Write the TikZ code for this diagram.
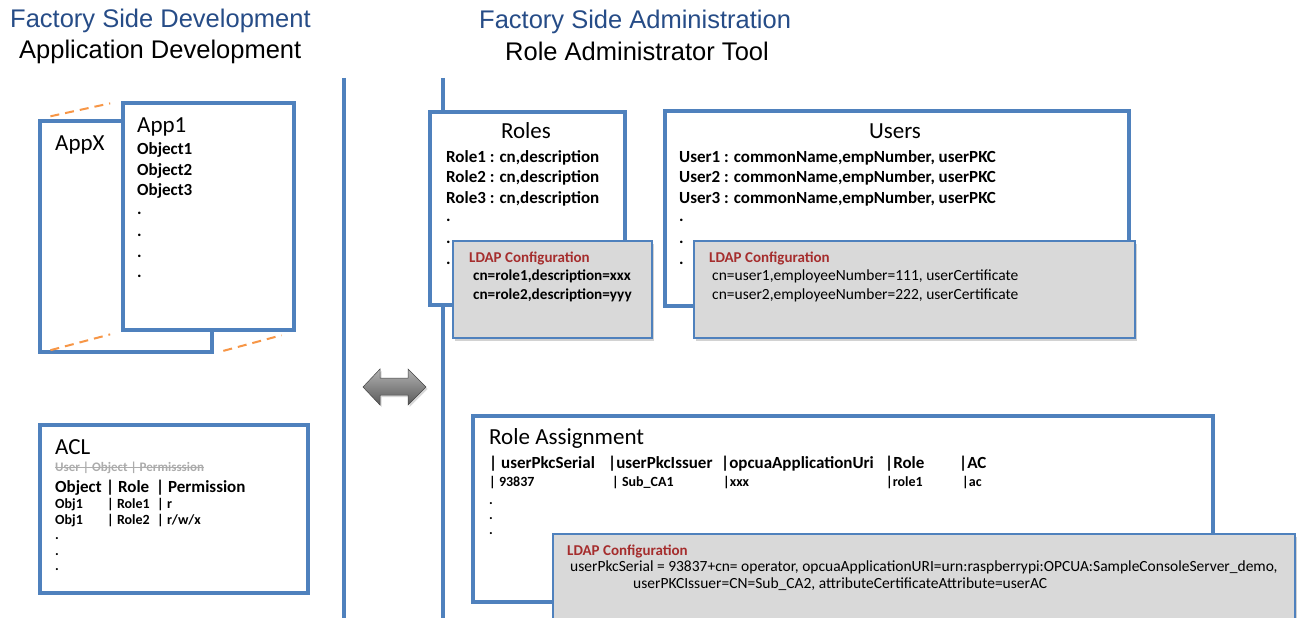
\documentclass[tikz,border=0pt]{standalone}
\usepackage{fontspec}
\setmainfont{Carlito}
\newfontfamily\titlefont{Liberation Sans}
\usetikzlibrary{calc,shadows}
\definecolor{boxblue}{RGB}{79,129,189}
\definecolor{titleblue}{RGB}{38,76,135}
\definecolor{ldapred}{RGB}{165,45,45}
\definecolor{ldapgray}{RGB}{217,217,217}
\definecolor{dashorange}{RGB}{247,150,70}

\begin{document}
\begin{tikzpicture}[x=1pt, y=-1pt,
    box/.style={draw=boxblue, line width=3.5pt, fill=white, inner sep=0pt, anchor=north west},
    ldapbox/.style={draw=boxblue, line width=2pt, fill=ldapgray, inner sep=0pt, anchor=north west,
        drop shadow={opacity=0.35, shadow xshift=2pt, shadow yshift=-3pt}},
    sep/.style={draw=boxblue, line width=3.5pt},
    persp/.style={draw=dashorange, line width=2pt, dash pattern=on 9pt off 6pt},
    title/.style={anchor=base west, inner sep=0pt, font=\titlefont\fontsize{25.5}{30}\selectfont},
    head/.style={anchor=base west, inner sep=0pt, font=\fontsize{23}{27}\selectfont},
    item/.style={anchor=base west, inner sep=0pt, font=\bfseries\fontsize{17}{20}\selectfont},
    small/.style={anchor=base west, inner sep=0pt, font=\bfseries\fontsize{14}{16}\selectfont},
    ldaphead/.style={anchor=base west, inner sep=0pt, text=ldapred, font=\bfseries\fontsize{15}{18}\selectfont},
    ldap/.style={anchor=base west, inner sep=0pt, font=\fontsize{15.5}{18}\selectfont}]
    \useasboundingbox (0,0) rectangle (1299,618);
    \clip (0,0) rectangle (1299,618);
    \fill[white] (0,0) rectangle (1299,618);

    % 标题
    \node[title, text=titleblue] (devtitle) at (10,28) {Factory Side Development};
    \node[title] (devsub) at (19,59) {Application Development};
    \node[title, text=titleblue] (admtitle) at (479,29) {Factory Side Administration};
    \node[title] (admsub) at (505,60) {Role Administrator Tool};

    % 分隔线
    \draw[sep] (344,78) -- (344,618);
    \draw[sep] (443,78) -- (443,618);

    % 应用
    \node[box, minimum width=172pt, minimum height=231pt] (appx) at (38,119) {};
    \node[head] (appxname) at (55,150) {AppX};
    \node[box, minimum width=171pt, minimum height=227pt] (appone) at (121,101) {};
    \node[head] (apponename) at (137,132) {App1};
    \node[item] (objone) at (137,154) {Object1};
    \node[item] (objtwo) at (137,175) {Object2};
    \node[item] (objthree) at (137,195) {Object3};
    \node[item] (objdota) at (137,214) {.};
    \node[item] (objdotb) at (137,236) {.};
    \node[item] (objdotc) at (137,257) {.};
    \node[item] (objdotd) at (137,277) {.};
    \draw[persp] ($(appx.north west)!.15!(appone.north west)$) -- ($(appx.north west)!.87!(appone.north west)$);
    \draw[persp] ($(appx.south west)!.15!(appone.south west)$) -- ($(appx.south west)!.87!(appone.south west)$);
    \draw[persp] ($(appx.south east)!.12!(appone.south east)$) -- ($(appx.south east)!.83!(appone.south east)$);

    % ACL
    \node[box, minimum width=268pt, minimum height=168pt] (acl) at (38,423) {};
    \node[head] (aclname) at (55,454) {ACL};
    \node[small, text=gray!65, font=\bfseries\fontsize{13}{15}\selectfont] (aclold) at (55,471) {User | Object | Permisssion};
    \draw[gray!65, line width=.9pt] ($(aclold.base west)+(0,-4)$) -- ($(aclold.base east)+(0,-4)$);
    \node[item] (aclhobj) at (55,492) {Object};
    \node[item] (aclhrole) at (106,492) {| Role};
    \node[item] (aclhperm) at (156,492) {| Permission};
    \node[small] (aclaobj) at (55,508) {Obj1};
    \node[small] (aclarole) at (107,508) {| Role1};
    \node[small] (aclaperm) at (157,508) {| r};
    \node[small] (aclbobj) at (55,524) {Obj1};
    \node[small] (aclbrole) at (107,524) {| Role2};
    \node[small] (aclbperm) at (157,524) {| r/w/x};
    \node[small] (acldota) at (55,539) {.};
    \node[small] (acldotb) at (55,555) {.};
    \node[small] (acldotc) at (55,570) {.};

    % 双向箭头
    \shade[top color=gray!60, middle color=gray!8, bottom color=gray!70!black, draw=gray!55!black, line width=.5pt,
        drop shadow={opacity=0.3, shadow xshift=1.5pt, shadow yshift=-2pt}]
        (363,387) -- (380,369) -- (380,378) -- (408,378) -- (408,369) -- (426,387)
        -- (408,405) -- (408,395) -- (380,395) -- (380,405) -- cycle;

    % 角色
    \node[box, minimum width=195pt, minimum height=193pt] (roles) at (428,110) {};
    \node[head, anchor=base] (rolesname) at (526,138) {Roles};
    \node[item] (roleone) at (446,162) {Role1 : cn,description};
    \node[item] (roletwo) at (446,182) {Role2 : cn,description};
    \node[item] (rolethree) at (446,203) {Role3 : cn,description};
    \node[item] (roledota) at (446,221) {.};
    \node[item] (roledotb) at (446,243) {.};
    \node[item] (roledotc) at (446,264) {.};
    \node[ldapbox, minimum width=199pt, minimum height=97pt] (roleldap) at (452,240) {};
    \node[ldaphead] (roleldaphead) at (469,262) {LDAP Configuration};
    \node[ldap, font=\bfseries\fontsize{15.2}{18}\selectfont] (roleldapa) at (473,280) {cn=role1,description=xxx};
    \node[ldap, font=\bfseries\fontsize{15.2}{18}\selectfont] (roleldapb) at (473,299) {cn=role2,description=yyy};

    % 用户
    \node[box, minimum width=464pt, minimum height=195pt] (users) at (663,109) {};
    \node[head, anchor=base] (usersname) at (895,138) {Users};
    \node[item] (userone) at (679,162) {User1 : commonName,empNumber, userPKC};
    \node[item] (usertwo) at (679,182) {User2 : commonName,empNumber, userPKC};
    \node[item] (userthree) at (679,203) {User3 : commonName,empNumber, userPKC};
    \node[item] (userdota) at (679,221) {.};
    \node[item] (userdotb) at (679,243) {.};
    \node[item] (userdotc) at (679,264) {.};
    \node[ldapbox, minimum width=441pt, minimum height=97pt] (userldap) at (693,240) {};
    \node[ldaphead] (userldaphead) at (709,262) {LDAP Configuration};
    \node[ldap] (userldapa) at (712,280) {cn=user1,employeeNumber=111, userCertificate};
    \node[ldap] (userldapb) at (712,299) {cn=user2,employeeNumber=222, userCertificate};

    % 角色分配
    \node[box, minimum width=740pt, minimum height=186pt] (assign) at (471,414) {};
    \node[head] (assignname) at (489,444) {Role Assignment};
    \node[item] (assignhserial) at (489,468) {| userPkcSerial};
    \node[item] (assignhissuer) at (608,468) {|userPkcIssuer};
    \node[item] (assignhuri) at (721,468) {|opcuaApplicationUri};
    \node[item] (assignhrole) at (885,468) {|Role};
    \node[item] (assignhac) at (959,468) {|AC};
    \node[small] (assignserial) at (489,486) {| 93837};
    \node[small] (assignissuer) at (612,486) {| Sub\_CA1};
    \node[small] (assignuri) at (723,486) {|xxx};
    \node[small] (assignrole) at (886,486) {|role1};
    \node[small] (assignac) at (962,486) {|ac};
    \node[small] (assigndota) at (489,504) {.};
    \node[small] (assigndotb) at (489,519) {.};
    \node[small] (assigndotc) at (489,534) {.};
    \node[ldapbox, minimum width=742pt, minimum height=100pt] (assignldap) at (552,533) {};
    \node[ldaphead] (assignldaphead) at (567,555) {LDAP Configuration};
    \node[ldap] (assignldapa) at (570,571) {userPkcSerial = 93837+cn= operator, opcuaApplicationURI=urn:raspberrypi:OPCUA:SampleConsoleServer\_demo,};
    \node[ldap] (assignldapb) at (633,588) {userPKCIssuer=CN=Sub\_CA2, attributeCertificateAttribute=userAC};
\end{tikzpicture}
\end{document}
